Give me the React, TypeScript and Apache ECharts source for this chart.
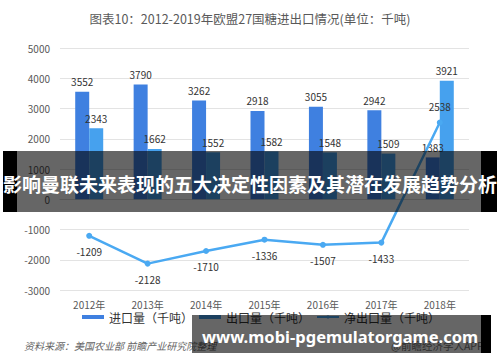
import React, { useEffect, useRef } from "react";
import * as echarts from "echarts";

const categories = ["2012年", "2013年", "2014年", "2015年", "2016年", "2017年", "2018年"];
const importValues = [3552, 3790, 3262, 2918, 3055, 2942, 1383];
const exportValues = [2343, 1662, 1552, 1582, 1548, 1509, 3921];
const netValues = [-1209, -2128, -1710, -1336, -1507, -1433, 2538];
const seriesNames = ["进口量（千吨）", "出口量（千吨）", "净出口量（千吨）"];
const titleText = "图表10：2012-2019年欧盟27国糖进出口情况(单位：千吨)";
const sourceText = "资料来源：美国农业部 前瞻产业研究院整理";
const creditText = "@前瞻经济学人APP";
const bannerText = "影响曼联未来表现的五大决定性因素及其潜在发展趋势分析";
const urlText = "www.mobi-pgemulatorgame.com";

const FONT = "'Noto Sans CJK SC', 'Noto Sans', sans-serif";

export default function App() {
  const ref = useRef<HTMLDivElement>(null);
  useEffect(() => {
    if (!ref.current) return;
    const chart = echarts.init(ref.current, undefined, { renderer: "svg" });
    const labelStyle = { fontSize: 10, color: "#333", fontFamily: FONT };
    chart.setOption({
      animation: false,
      backgroundColor: "#fff",
      textStyle: { fontFamily: FONT },
      title: {
        text: titleText,
        left: "center",
        top: 7,
        textStyle: { fontSize: 12.5, color: "#595959", fontWeight: "normal", fontFamily: FONT },
      },
      grid: { left: 60, right: 31, top: 48, bottom: 72 },
      legend: {
        left: 77,
        top: 306,
        itemWidth: 22,
        itemHeight: 4,
        itemGap: 6,
        textStyle: { fontSize: 12, color: "#333", fontFamily: FONT },
        data: [
          { name: seriesNames[0], icon: "rect" },
          { name: seriesNames[1], icon: "rect" },
          { name: seriesNames[2] },
        ],
      },
      xAxis: {
        type: "category",
        data: categories,
        axisTick: { show: false },
        axisLine: { lineStyle: { color: "#d9d9d9" } },
        axisLabel: { fontSize: 10, color: "#595959", margin: 9, fontFamily: FONT },
      },
      yAxis: {
        type: "value",
        min: -3000,
        max: 5000,
        interval: 1000,
        axisLabel: {
          fontSize: 10,
          color: "#595959",
          margin: 10,
          fontFamily: FONT,
          formatter: (v: number) => String(v),
        },
        splitLine: { lineStyle: { color: "#e3e3e3" } },
        axisLine: { show: false },
        axisTick: { show: false },
      },
      series: [
        {
          name: seriesNames[0],
          type: "bar",
          data: importValues,
          barWidth: 14,
          barGap: "0%",
          itemStyle: { color: "#3f80e0" },
          label: { show: true, position: "top", distance: 5, ...labelStyle },
        },
        {
          name: seriesNames[1],
          type: "bar",
          data: exportValues,
          barWidth: 14,
          barGap: "0%",
          itemStyle: { color: "#46a1ee" },
          label: { show: true, position: "top", distance: 5, ...labelStyle },
        },
        {
          name: seriesNames[2],
          type: "line",
          data: netValues.map((v) => ({
            value: v,
            label: { position: v >= 0 ? "top" : "bottom" },
          })),
          symbol: "circle",
          symbolSize: 6,
          lineStyle: { color: "#4aa9f2", width: 2.5 },
          itemStyle: { color: "#4aa9f2" },
          label: { show: true, distance: 8, ...labelStyle },
          z: 3,
        },
      ],
      graphic: [
        {
          type: "text",
          left: 24,
          top: 340,
          z: 1,
          style: { text: sourceText, fill: "#666", font: `italic 10px ${FONT}` },
        },
        {
          type: "text",
          left: 391,
          top: 340,
          z: 1,
          style: { text: creditText, fontSize: 10.5, fill: "#777", fontFamily: FONT },
        },
        { type: "rect", z: 100, shape: { x: 3, y: 151, width: 14, height: 61 }, style: { fill: "#000" } },
        { type: "rect", z: 100, shape: { x: 17, y: 151, width: 464, height: 61 }, style: { fill: "rgba(0,0,0,0.6)" } },
        { type: "rect", z: 100, shape: { x: 481, y: 151, width: 16, height: 61 }, style: { fill: "#000" } },
        {
          type: "text",
          z: 101,
          x: 250,
          y: 183,
          style: {
            text: bannerText,
            fill: "#fff",
            fontSize: 19,
            fontWeight: "bold",
            fontFamily: FONT,
            align: "center",
            verticalAlign: "middle",
          },
        },
        { type: "rect", z: 100, shape: { x: 192, y: 315, width: 289, height: 38 }, style: { fill: "rgba(0,0,0,0.6)" } },
        { type: "rect", z: 100, shape: { x: 481, y: 315, width: 10, height: 38 }, style: { fill: "#000" } },
        {
          type: "text",
          z: 101,
          x: 340,
          y: 336,
          style: {
            text: urlText,
            fill: "#fff",
            fontSize: 16.5,
            fontWeight: "bold",
            fontFamily: "'Noto Sans', sans-serif",
            align: "center",
            verticalAlign: "middle",
          },
        },
      ],
    });
    return () => chart.dispose();
  }, []);
  return <div ref={ref} style={{ width: 500, height: 362, position: "absolute", left: 0, top: 0 }} />;
}
